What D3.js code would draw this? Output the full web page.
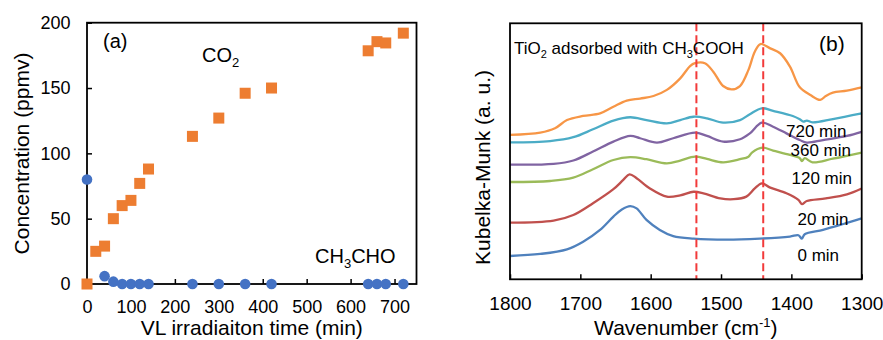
<!DOCTYPE html>
<html>
<head>
<meta charset="utf-8">
<script src="https://cdn.jsdelivr.net/npm/d3@7"></script>
<style>
  body { margin: 0; background: #fff; }
  svg { display: block; font-family: "Liberation Sans", Arial, sans-serif; }
  .axis path { display: none; }
  .axis line { stroke: #000; stroke-width: 1.5; }
  .axis text { fill: #000; }
</style>
</head>
<body>
<svg id="chart" width="883" height="340"></svg>
<script>
  /* panel (a): gas concentration vs irradiation time */
  var timeTicks = [0, 100, 200, 300, 400, 500, 600, 700];
  var concTicks = [0, 50, 100, 150, 200];
  var co2Time = [0, 20, 40, 60, 80, 100, 120, 140, 240, 300, 360, 420, 640, 660, 680, 720];
  var co2Conc = [0, 25, 29, 50, 60, 64, 77, 88, 113, 127, 146, 150, 178.5, 185.5, 184.5, 192];
  var aceTime = [0, 40, 60, 80, 100, 120, 140, 240, 300, 360, 420, 640, 660, 680, 720];
  var aceConc = [80, 6, 1.8, 0, 0, 0, 0, 0, 0, 0, 0, 0, 0, 0, 0];

  /* panel (b): DRIFT spectra, [wavenumber, K-M a.u.] */
  var wnTicks = [1800, 1700, 1600, 1500, 1400, 1300];
  var peakLines = [1535, 1440];
  var spec0 = [[1800,0.91],[1757,0.99],[1719,1.17],[1696,1.47],[1672,1.93],[1653,2.45],[1641,2.73],[1629,2.86],
    [1620,2.77],[1606,2.32],[1587,1.93],[1568,1.69],[1539,1.59],[1492,1.55],[1445,1.59],[1402,1.67],[1390,1.72],
    [1385,1.59],[1381,1.76],[1355,1.93],[1326,2.16],[1300,2.38]];
  var spec20 = [[1800,2.21],[1738,2.29],[1710,2.51],[1682,2.97],[1653,3.52],[1639,3.88],[1630,4.10],[1620,3.95],
    [1601,3.55],[1577,3.23],[1558,3.28],[1539,3.42],[1525,3.36],[1501,3.16],[1482,3.13],[1464,3.23],[1452,3.55],
    [1442,3.75],[1430,3.58],[1407,3.36],[1390,3.10],[1385,2.94],[1378,3.06],[1351,3.16],[1321,3.32],[1300,3.55]];
  var spec120 = [[1800,3.80],[1743,3.84],[1710,3.97],[1682,4.30],[1653,4.66],[1629,4.77],[1606,4.69],[1577,4.53],
    [1558,4.64],[1537,4.79],[1520,4.70],[1497,4.57],[1473,4.69],[1461,4.79],[1456,4.95],[1441,5.14],[1426,5.03],
    [1402,4.86],[1388,4.73],[1385,4.62],[1381,4.73],[1370,4.57],[1341,4.71],[1300,4.95]];
  var spec360 = [[1800,4.48],[1738,4.51],[1710,4.64],[1682,4.99],[1653,5.38],[1629,5.60],[1615,5.51],[1591,5.34],
    [1568,5.51],[1537,5.73],[1520,5.60],[1497,5.38],[1473,5.47],[1459,5.70],[1442,6.12],[1426,5.96],[1407,5.70],
    [1388,5.44],[1378,5.34],[1355,5.44],[1321,5.60],[1300,5.76]];
  var spec720 = [[1800,5.35],[1743,5.40],[1710,5.55],[1682,5.86],[1653,6.20],[1629,6.33],[1606,6.22],[1577,6.09],
    [1558,6.22],[1539,6.35],[1520,6.29],[1497,6.12],[1473,6.22],[1459,6.45],[1442,6.68],[1426,6.58],[1398,6.38],
    [1388,6.25],[1383,6.16],[1378,6.20],[1370,6.13],[1341,6.26],[1300,6.48]];
  var specAds = [[1800,5.64],[1757,5.73],[1736,5.90],[1719,6.22],[1696,6.38],[1672,6.48],[1653,6.74],[1634,6.98],
    [1615,7.06],[1596,7.16],[1577,7.40],[1558,7.85],[1544,8.33],[1537,8.44],[1523,8.44],[1511,8.11],[1497,7.55],
    [1485,7.42],[1473,7.55],[1461,8.18],[1452,8.89],[1444,9.19],[1430,9.02],[1416,8.83],[1402,8.31],[1388,7.50],
    [1373,7.20],[1359,7.01],[1351,7.16],[1341,7.29],[1321,7.37],[1300,7.50]];
  var spectra = [spec0, spec20, spec120, spec360, spec720, specAds];
  var specColors = ['#4F81BD', '#C0504D', '#9BBB59', '#8064A2', '#4BACC6', '#F79646'];
  var specLabels = ['0 min', '20 min', '120 min', '360 min', '720 min'];

  var svg = d3.select('#chart');

  // ---------- panel (a)
  var ax = { left: 87, right: 416.5, top: 22.7, bottom: 284 };
  var x1 = d3.scaleLinear().domain([0, 750]).range([ax.left, ax.right]);
  var y1 = d3.scaleLinear().domain([0, 200]).range([ax.bottom, ax.top]);
  var pa = svg.append('g');

  pa.append('g').attr('class', 'axis').attr('transform', 'translate(0,' + ax.bottom + ')')
    .call(d3.axisBottom(x1).tickValues(timeTicks).tickSizeInner(-5).tickSizeOuter(0).tickPadding(16))
    .selectAll('text').style('font-size', '18px');
  pa.append('g').attr('class', 'axis').attr('transform', 'translate(' + ax.left + ',0)')
    .call(d3.axisLeft(y1).tickValues(concTicks).tickSizeInner(-5).tickSizeOuter(0).tickPadding(16.5))
    .selectAll('text').style('font-size', '18px');
  pa.append('rect').attr('x', ax.left).attr('y', ax.top)
    .attr('width', ax.right - ax.left).attr('height', ax.bottom - ax.top)
    .attr('fill', 'none').attr('stroke', '#000').attr('stroke-width', 1.8);

  pa.selectAll('.sq').data(co2Time).enter().append('rect').attr('class', 'sq')
    .attr('x', function(d){ return x1(d) - 5.5; })
    .attr('y', function(d, i){ return y1(co2Conc[i]) - 5.5; })
    .attr('width', 11).attr('height', 11).attr('fill', '#ED7D31');
  pa.selectAll('.dot').data(aceTime).enter().append('circle').attr('class', 'dot')
    .attr('cx', function(d){ return x1(d); })
    .attr('cy', function(d, i){ return y1(aceConc[i]); })
    .attr('r', 5.3).attr('fill', '#4472C4');

  pa.append('text').attr('x', 103).attr('y', 48).style('font-size', '20px').text('(a)');
  var co2 = pa.append('text').attr('x', 202).attr('y', 62).style('font-size', '20px');
  co2.append('tspan').text('CO');
  co2.append('tspan').attr('dy', 5).style('font-size', '13px').text('2');
  var ace = pa.append('text').attr('x', 315).attr('y', 263).style('font-size', '20px');
  ace.append('tspan').text('CH');
  ace.append('tspan').attr('dy', 5).style('font-size', '13px').text('3');
  ace.append('tspan').attr('dy', -5).text('CHO');

  pa.append('text').attr('x', (ax.left + ax.right) / 2).attr('y', 335)
    .attr('text-anchor', 'middle').style('font-size', '21px').text('VL irradiaiton time (min)');
  pa.append('text').attr('transform', 'translate(28.5,153.5) rotate(-90)')
    .attr('text-anchor', 'middle').style('font-size', '21px').text('Concentration (ppmv)');

  // ---------- panel (b)
  var bx = { left: 510, right: 861.7, top: 23.3, bottom: 279.3 };
  var x2 = d3.scaleLinear().domain([1800, 1300]).range([bx.left, bx.right]);
  var y2 = d3.scaleLinear().domain([0, 10]).range([bx.bottom, bx.top]);
  var pb = svg.append('g');

  pb.append('g').attr('class', 'axis').attr('transform', 'translate(0,' + bx.bottom + ')')
    .call(d3.axisBottom(x2).tickValues(wnTicks).tickFormat(d3.format('d'))
      .tickSizeInner(-5).tickSizeOuter(0).tickPadding(17))
    .selectAll('text').style('font-size', '19px');

  var line = d3.line()
    .x(function(d){ return x2(d[0]); })
    .y(function(d){ return y2(d[1]); })
    .curve(d3.curveCatmullRom.alpha(0.5));

  pb.selectAll('.spec').data(spectra).enter().append('path').attr('class', 'spec')
    .attr('d', line).attr('fill', 'none')
    .attr('stroke', function(d, i){ return specColors[i]; })
    .attr('stroke-width', 2.3).attr('stroke-linejoin', 'round');

  pb.selectAll('.peak').data(peakLines).enter().append('line').attr('class', 'peak')
    .attr('x1', function(d){ return x2(d); }).attr('x2', function(d){ return x2(d); })
    .attr('y1', bx.top).attr('y2', bx.bottom)
    .attr('stroke', '#F23A3A').attr('stroke-width', 2).attr('stroke-dasharray', '8,4');

  pb.append('rect').attr('x', bx.left).attr('y', bx.top)
    .attr('width', bx.right - bx.left).attr('height', bx.bottom - bx.top)
    .attr('fill', 'none').attr('stroke', '#000').attr('stroke-width', 1.8);

  // curve labels, bottom to top
  var labelPos = [[797.5, 260.7], [797.5, 224.5], [791.5, 184], [790.5, 156], [786, 136.7]];
  pb.selectAll('.lab').data(specLabels).enter().append('text').attr('class', 'lab')
    .attr('x', function(d, i){ return labelPos[i][0]; })
    .attr('y', function(d, i){ return labelPos[i][1]; })
    .style('font-size', '17px').text(function(d){ return d; });

  var ads = pb.append('text').attr('x', 514).attr('y', 54).style('font-size', '17px');
  ads.append('tspan').text('TiO');
  ads.append('tspan').attr('dy', 4).style('font-size', '11px').text('2');
  ads.append('tspan').attr('dy', -4).text(' adsorbed with CH');
  ads.append('tspan').attr('dy', 4).style('font-size', '11px').text('3');
  ads.append('tspan').attr('dy', -4).text('COOH');
  pb.append('text').attr('x', 819).attr('y', 51).style('font-size', '21px').text('(b)');

  var wt = pb.append('text').attr('x', (bx.left + bx.right) / 2).attr('y', 335)
    .attr('text-anchor', 'middle').style('font-size', '21px');
  wt.append('tspan').text('Wavenumber (cm');
  wt.append('tspan').attr('dy', -8).style('font-size', '13px').text('-1');
  wt.append('tspan').attr('dy', 8).text(')');
  pb.append('text').attr('transform', 'translate(490,167.5) rotate(-90)')
    .attr('text-anchor', 'middle').style('font-size', '21px').text('Kubelka-Munk (a. u.)');
</script>
</body>
</html>
